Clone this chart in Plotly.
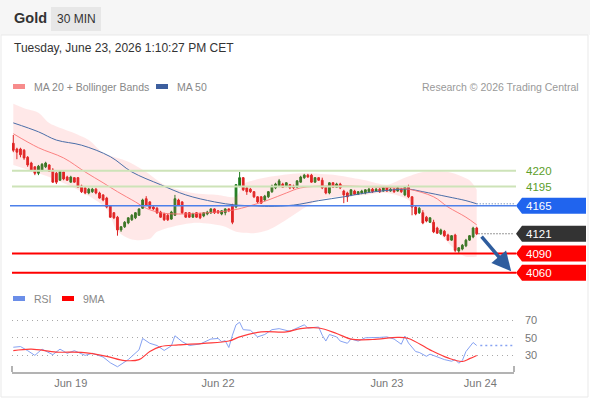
import plotly.graph_objects as go

# 30-minute Gold candles (index = bar number on the chart)
open_px = [4263, 4254, 4254, 4252, 4241, 4232, 4226, 4216, 4221, 4226,
           4229, 4221, 4216, 4205, 4218, 4210, 4202, 4209, 4209, 4196,
           4193, 4185, 4187, 4191, 4185, 4182, 4177, 4165, 4154, 4147,
           4127, 4132, 4138, 4143, 4146, 4150, 4161, 4176, 4171, 4163,
           4161, 4155, 4152, 4150, 4144, 4150, 4174, 4171, 4154, 4154,
           4147, 4154, 4152, 4149, 4152, 4154, 4160, 4157, 4152, 4154,
           4160, 4166, 4163, 4196, 4209, 4193, 4191, 4187, 4179, 4179,
           4174, 4179, 4187, 4193, 4196, 4199, 4196, 4198, 4196, 4194,
           4202, 4209, 4213, 4213, 4202, 4209, 4205, 4194, 4185, 4201,
           4194, 4199, 4188, 4185, 4182, 4188, 4183, 4185, 4185, 4187,
           4191, 4188, 4191, 4188, 4193, 4188, 4191, 4188, 4191, 4182,
           4194, 4179, 4163, 4154, 4154, 4147, 4139, 4139, 4130, 4121,
           4125, 4119, 4111, 4119, 4094, 4097, 4102, 4111, 4116, 4130]
high_px = [4276, 4256, 4256, 4254, 4243, 4234, 4227, 4229, 4232, 4234,
           4230, 4224, 4218, 4221, 4219, 4212, 4212, 4210, 4210, 4198,
           4194, 4193, 4193, 4193, 4187, 4183, 4179, 4166, 4155, 4149,
           4133, 4141, 4147, 4152, 4155, 4161, 4176, 4180, 4172, 4165,
           4163, 4157, 4154, 4152, 4157, 4182, 4176, 4172, 4155, 4155,
           4154, 4155, 4154, 4155, 4157, 4161, 4161, 4158, 4158, 4161,
           4161, 4168, 4199, 4218, 4210, 4194, 4193, 4188, 4180, 4180,
           4182, 4188, 4198, 4201, 4207, 4201, 4202, 4199, 4198, 4205,
           4212, 4215, 4215, 4215, 4210, 4210, 4209, 4196, 4202, 4202,
           4201, 4201, 4190, 4187, 4191, 4190, 4188, 4190, 4191, 4193,
           4193, 4193, 4193, 4194, 4194, 4193, 4193, 4194, 4193, 4196,
           4198, 4180, 4165, 4163, 4158, 4149, 4147, 4143, 4132, 4129,
           4127, 4121, 4119, 4121, 4100, 4105, 4113, 4119, 4132, 4132]
low_px = [4249, 4238, 4241, 4237, 4226, 4219, 4213, 4213, 4219, 4224,
          4218, 4201, 4199, 4204, 4205, 4204, 4201, 4201, 4193, 4185,
          4183, 4183, 4185, 4183, 4176, 4172, 4161, 4146, 4144, 4118,
          4124, 4130, 4136, 4141, 4144, 4149, 4160, 4165, 4160, 4158,
          4152, 4146, 4141, 4141, 4143, 4149, 4165, 4152, 4146, 4146,
          4146, 4146, 4144, 4147, 4150, 4152, 4152, 4152, 4150, 4150,
          4155, 4136, 4161, 4194, 4188, 4182, 4185, 4177, 4169, 4168,
          4172, 4177, 4185, 4191, 4194, 4193, 4194, 4191, 4191, 4193,
          4201, 4207, 4209, 4201, 4201, 4204, 4191, 4183, 4183, 4193,
          4193, 4191, 4169, 4171, 4180, 4182, 4182, 4183, 4183, 4185,
          4185, 4187, 4185, 4187, 4187, 4187, 4185, 4187, 4185, 4180,
          4177, 4150, 4150, 4152, 4136, 4139, 4138, 4122, 4121, 4119,
          4116, 4110, 4110, 4092, 4091, 4095, 4100, 4110, 4114, 4119]
close_px = [4252, 4249, 4245, 4240, 4229, 4221, 4216, 4227, 4230, 4232,
            4219, 4202, 4202, 4219, 4207, 4205, 4210, 4202, 4194, 4187,
            4185, 4191, 4191, 4185, 4177, 4174, 4163, 4147, 4146, 4127,
            4132, 4139, 4146, 4150, 4154, 4160, 4174, 4166, 4161, 4160,
            4154, 4147, 4143, 4143, 4155, 4176, 4166, 4154, 4147, 4147,
            4152, 4147, 4146, 4154, 4155, 4160, 4154, 4154, 4157, 4160,
            4157, 4139, 4198, 4209, 4190, 4187, 4187, 4179, 4171, 4169,
            4180, 4187, 4196, 4199, 4204, 4194, 4201, 4193, 4193, 4204,
            4210, 4213, 4210, 4202, 4209, 4205, 4193, 4185, 4201, 4194,
            4199, 4193, 4182, 4179, 4190, 4183, 4187, 4188, 4190, 4191,
            4187, 4191, 4187, 4193, 4188, 4191, 4187, 4193, 4187, 4194,
            4179, 4163, 4152, 4161, 4138, 4141, 4146, 4124, 4122, 4127,
            4118, 4111, 4118, 4095, 4099, 4103, 4111, 4118, 4130, 4121]
bar_index = list(range(len(close_px)))

# moving averages and Bollinger bands, read at a set of bars
ma50_idx = [0, 7, 12, 19, 27, 33, 41, 48, 56, 62, 67, 71, 78, 85, 92, 98, 104, 110, 114, 121, 126, 129]
ma50_val = [4295, 4281, 4268, 4260, 4242, 4218, 4198, 4182, 4171, 4166, 4165, 4164, 4166, 4173,
            4179, 4185, 4189, 4191, 4187, 4179, 4173, 4168]
ma20_idx = [0, 7, 14, 20, 25, 29, 34, 37, 41, 46, 54, 61, 66, 71, 76, 80, 88, 98, 106, 110, 117, 121, 126, 129]
ma20_val = [4278, 4256, 4240, 4218, 4201, 4187, 4171, 4161, 4154, 4152, 4154, 4158, 4165, 4174,
            4185, 4193, 4196, 4195, 4193, 4191, 4179, 4163, 4147, 4135]
bb_up_idx = [0, 3, 7, 10, 16, 21, 25, 32, 37, 42, 50, 57, 62, 64, 67, 71, 80, 90, 98, 104, 109,
             114, 121, 127, 129]
bb_up_val = [4325, 4318, 4311, 4295, 4281, 4268, 4248, 4234, 4218, 4198, 4185, 4182, 4179, 4199,
             4205, 4210, 4216, 4213, 4205, 4198, 4209, 4218, 4218, 4205, 4190]
bb_lo_idx = [0, 10, 19, 26, 29, 33, 38, 40, 50, 59, 62, 67, 71, 76, 80, 85, 90, 98, 104, 110,
             117, 123, 126, 129]
bb_lo_val = [4229, 4210, 4187, 4160, 4125, 4112, 4113, 4124, 4138, 4132, 4124, 4122, 4127, 4143,
             4158, 4174, 4179, 4182, 4185, 4174, 4132, 4096, 4085, 4085]

# RSI and its 9-period MA
rsi_idx = [0, 2, 4, 6, 8, 11, 13, 15, 17, 20, 22, 25, 27, 29, 32, 35, 36, 38, 40, 42, 44, 45,
           47, 49, 52, 55, 57, 58, 59, 60, 61, 62, 63, 64, 66, 68, 70, 72, 74, 77, 79, 81, 82,
           85, 86, 87, 88, 90, 91, 93, 94, 96, 98, 100, 102, 104, 106, 108, 109, 110, 112, 113,
           115, 116, 118, 120, 122, 123, 124, 125, 126, 128, 129]
rsi_val = [39, 39.8, 35, 29.6, 36.8, 30.4, 36.8, 32, 35, 29.6, 32, 27.7, 21, 16.4, 24.7, 36,
           49.2, 43.6, 41, 35.3, 40.6, 52.3, 45.5, 41, 42.8, 48.5, 49.2, 45.5, 46.6, 38.7, 53,
           65, 68, 59.4, 58.7, 51, 53.8, 59.4, 60.6, 57.5, 61.3, 65, 61.3, 62.5, 53, 46.2, 53.8,
           51, 46.2, 43.6, 48.5, 46.2, 50, 50, 50.4, 51, 48.5, 42.5, 52, 44, 34, 33, 28.5, 31,
           27.4, 24.7, 22.8, 24.7, 20.5, 23.6, 34, 44.5, 41]
ma9_idx = [0, 5, 12, 19, 26, 31, 35, 38, 41, 46, 53, 60, 63, 69, 76, 80, 85, 90, 94, 100, 107,
           110, 116, 121, 125, 127, 129]
ma9_val = [35, 36.8, 33.4, 33, 28.5, 23.6, 24.7, 34, 39.8, 41.7, 43.6, 46.2, 51, 56.8, 56.8,
           60.6, 61.3, 55, 48.5, 48, 50.4, 49.2, 36, 26.6, 22.5, 25.8, 29.5]

# key levels
resist_levels = [4220, 4195]
pivot_level = 4165
last_price = 4121
support_levels = [4090, 4060]
target_level = 4060

day_ticks = [16, 57, 104, 130]
day_labels = ["Jun 19", "Jun 22", "Jun 23", "Jun 24"]

W, H = 590, 400
FONT = "Liberation Sans, Arial, sans-serif"


def px_x(p):
    return p / W


def px_y(p):
    return 1 - p / H


fig = go.Figure()

fig.add_trace(go.Scatter(x=bb_lo_idx, y=bb_lo_val, mode="lines",
                         line=dict(width=0, shape="spline", smoothing=0.8),
                         hoverinfo="skip"))
fig.add_trace(go.Scatter(x=bb_up_idx, y=bb_up_val, mode="lines", fill="tonexty",
                         fillcolor="rgba(255,90,90,0.14)",
                         line=dict(width=0, shape="spline", smoothing=0.8),
                         hoverinfo="skip"))
fig.add_trace(go.Scatter(x=ma50_idx, y=ma50_val, mode="lines",
                         line=dict(color="#4a6ea8", width=1, shape="spline")))
fig.add_trace(go.Scatter(x=ma20_idx, y=ma20_val, mode="lines",
                         line=dict(color="rgba(250,110,110,0.85)", width=1, shape="spline")))

fig.add_trace(go.Candlestick(
    x=bar_index, open=open_px, high=high_px, low=low_px, close=close_px,
    increasing=dict(line=dict(color="#1e7b1e", width=1), fillcolor="#1e7b1e"),
    decreasing=dict(line=dict(color="#dd1f1f", width=1), fillcolor="#dd1f1f"),
    whiskerwidth=0,
))

fig.add_trace(go.Scatter(x=rsi_idx, y=rsi_val, mode="lines", xaxis="x2", yaxis="y2",
                         line=dict(color="#86a2f2", width=1)))
fig.add_trace(go.Scatter(x=ma9_idx, y=ma9_val, mode="lines", xaxis="x2", yaxis="y2",
                         line=dict(color="#ff3b3b", width=1.2, shape="spline")))

x_right = 139.9
shapes = [
    # header band and card frame
    dict(type="rect", xref="paper", yref="paper", x0=0, x1=1, y0=px_y(35), y1=1,
         fillcolor="#f6f6f6", line=dict(width=0), layer="below"),
    dict(type="rect", xref="paper", yref="paper", x0=px_x(1), x1=px_x(588), y0=px_y(397),
         y1=px_y(35), line=dict(color="#e9e9e9", width=1), layer="below"),
    dict(type="rect", xref="paper", yref="paper", x0=px_x(51), x1=px_x(101), y0=px_y(31),
         y1=px_y(7), fillcolor="#e7e7e7", line=dict(width=0), layer="below"),
    # legend swatches
    dict(type="rect", xref="paper", yref="paper", x0=px_x(13), x1=px_x(25), y0=px_y(89),
         y1=px_y(84), fillcolor="#f78c8c", line=dict(width=0)),
    dict(type="rect", xref="paper", yref="paper", x0=px_x(156), x1=px_x(168), y0=px_y(89),
         y1=px_y(84), fillcolor="#3d5f9e", line=dict(width=0)),
    dict(type="rect", xref="paper", yref="paper", x0=px_x(13), x1=px_x(25), y0=px_y(301),
         y1=px_y(296), fillcolor="#6b8ee8", line=dict(width=0)),
    dict(type="rect", xref="paper", yref="paper", x0=px_x(62), x1=px_x(74), y0=px_y(301),
         y1=px_y(296), fillcolor="#ff0000", line=dict(width=0)),
    # end ticks of the time axis
    dict(type="line", xref="paper", yref="paper", x0=px_x(12), x1=px_x(12), y0=px_y(372),
         y1=px_y(366), line=dict(color="#b3b3b3", width=2)),
    dict(type="line", xref="paper", yref="paper", x0=px_x(514), x1=px_x(514), y0=px_y(372),
         y1=px_y(366), line=dict(color="#b3b3b3", width=2)),
    # dotted extensions
    dict(type="line", xref="x", yref="y", x0=bar_index[-1] + 0.5, x1=x_right,
         y0=last_price, y1=last_price, line=dict(color="#333333", width=1, dash="1px,2px")),
    dict(type="line", xref="x", yref="y", x0=ma50_idx[-1], x1=x_right,
         y0=ma50_val[-1], y1=ma50_val[-1], line=dict(color="#4a6ea8", width=1, dash="1px,2px")),
    dict(type="line", xref="x2", yref="y2", x0=rsi_idx[-1] + 1, x1=x_right,
         y0=rsi_val[-1], y1=rsi_val[-1], line=dict(color="#86a2f2", width=1.5, dash="2px,3px")),
]

for lv in resist_levels:
    shapes.append(dict(type="line", xref="paper", yref="y", x0=px_x(12), x1=px_x(516),
                       y0=lv, y1=lv, line=dict(color="#cde3b8", width=2)))
shapes.append(dict(type="line", xref="paper", yref="y", x0=px_x(10), x1=px_x(516),
                   y0=pivot_level, y1=pivot_level, line=dict(color="#4d80ea", width=1.5)))
for lv in support_levels:
    shapes.append(dict(type="line", xref="paper", yref="y", x0=px_x(12), x1=px_x(516),
                       y0=lv, y1=lv, line=dict(color="#ff0000", width=2)))

tag_path = "M0,0 L6,8 L70,8 L70,-8 L6,-8 Z"
tags = [(pivot_level, "#2064ee"), (last_price, "#333333")] + [(lv, "#ff0000") for lv in support_levels]
annotations = []
for lv, col in tags:
    shapes.append(dict(type="path", xref="paper", yref="y", xsizemode="pixel", ysizemode="pixel",
                       xanchor=px_x(516), yanchor=lv, path=tag_path, fillcolor=col,
                       line=dict(width=0)))
    annotations.append(dict(xref="paper", yref="y", x=px_x(524), y=lv, text=str(lv),
                            showarrow=False, xanchor="left", yanchor="middle",
                            font=dict(color="white", size=11.5, family=FONT)))
for lv in resist_levels:
    annotations.append(dict(xref="paper", yref="y", x=px_x(524), y=lv, text=str(lv),
                            showarrow=False, xanchor="left", yanchor="middle",
                            font=dict(color="#5c9e2a", size=11.5, family=FONT)))

# projected move arrow
annotations.append(dict(xref="x", yref="y", axref="x", ayref="y", x=138.6, y=target_level + 2,
                        ax=bar_index[-1] + 1, ay=last_price - 2, text="", showarrow=True,
                        arrowhead=2, arrowsize=1.1, arrowwidth=3.5, arrowcolor="#2f5d9e"))

texts = [
    (12, 18, "<b>Gold</b>", 14.5, "#333333", "left"),
    (76, 19, "30 MIN", 12, "#333333", "center"),
    (12, 48, "Tuesday, June 23, 2026 1:10:27 PM CET", 12, "#333333", "left"),
    (32, 87, "MA 20 + Bollinger Bands", 10.5, "#888888", "left"),
    (175, 87, "MA 50", 10.5, "#888888", "left"),
    (581, 87, "Research © 2026 Trading Central", 10.5, "#999999", "right"),
    (32, 299, "RSI", 10.5, "#888888", "left"),
    (81, 299, "9MA", 10.5, "#888888", "left"),
]
for x, y, t, size, col, anchor in texts:
    annotations.append(dict(xref="paper", yref="paper", x=px_x(x), y=px_y(y), text=t,
                            showarrow=False, xanchor=anchor, yanchor="middle",
                            font=dict(size=size, color=col, family=FONT)))

x_dom = [px_x(12), px_x(514)]
fig.update_layout(
    width=W, height=H, margin=dict(l=0, r=0, t=0, b=0),
    paper_bgcolor="white", plot_bgcolor="rgba(0,0,0,0)",
    showlegend=False, font=dict(family=FONT),
    shapes=shapes, annotations=annotations,
    xaxis=dict(domain=x_dom, range=[-0.36, 139.38], visible=False, anchor="y",
               rangeslider=dict(visible=False), fixedrange=True),
    yaxis=dict(domain=[px_y(285), px_y(100)], range=[4040.6, 4330.9], visible=False,
               anchor="x", fixedrange=True),
    xaxis2=dict(domain=x_dom, matches="x", anchor="y2", showline=True, linecolor="#b3b3b3",
                linewidth=2, showgrid=False, zeroline=False, ticks="",
                tickvals=day_ticks, ticktext=day_labels,
                tickfont=dict(size=11, color="#777777", family=FONT)),
    yaxis2=dict(domain=[px_y(372), px_y(310)], range=[10.3, 82.2], anchor="x2", side="right",
                tickvals=[30, 50, 70], showgrid=True, griddash="1px,4px", gridcolor="#a8a8a8",
                gridwidth=1, zeroline=False, showline=False, ticks="", ticklabelstandoff=10,
                tickfont=dict(size=11, color="#777777", family=FONT)),
)

# the page's default body margin would shift the 590x400 figure
fig.write_html("out.html", config={"displayModeBar": False},
               post_script="document.body.style.margin='0';document.body.style.overflow='hidden';")
